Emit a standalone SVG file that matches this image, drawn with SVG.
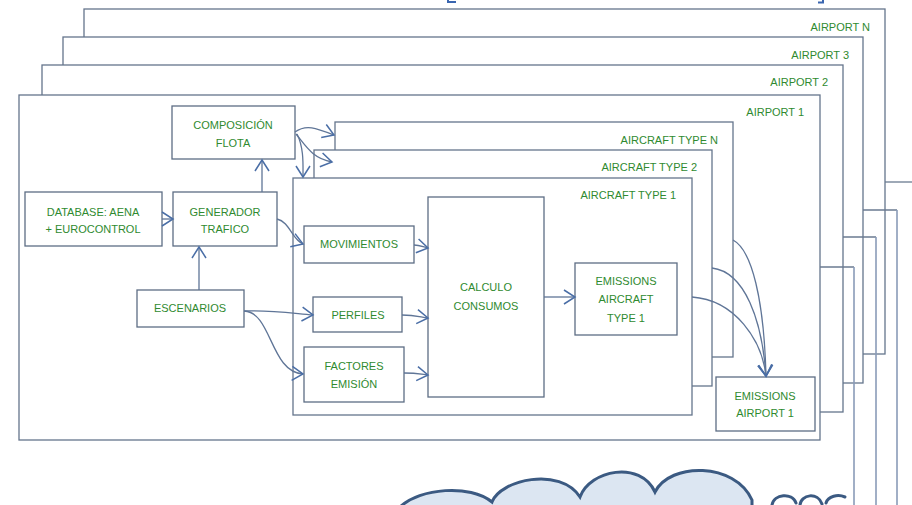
<svg xmlns="http://www.w3.org/2000/svg" width="912" height="505" viewBox="0 0 912 505">
<style>
.frame{fill:#ffffff;stroke:#65758c;stroke-width:1.3}
.box{fill:#ffffff;stroke:#5d6d84;stroke-width:1.3}
.t{font-family:"Liberation Sans",Arial,sans-serif;font-size:11px;fill:#2f8a2f;text-anchor:middle}
.lbl{font-family:"Liberation Sans",Arial,sans-serif;font-size:11px;fill:#2f8a2f;text-anchor:end}
.c{fill:none;stroke:#5f7597;stroke-width:1.3}
.side{fill:none;stroke:#8a9bb8;stroke-width:1.6}
.sideh{fill:none;stroke:#6a7a90;stroke-width:1.3}
</style>
<defs>
<marker id="ah" markerWidth="16" markerHeight="18" refX="13" refY="9" orient="auto" markerUnits="userSpaceOnUse">
<path d="M2,2 L13,9 L2,16" fill="none" stroke="#4a6ea6" stroke-width="1.5"/>
</marker>
</defs>
<rect width="912" height="505" fill="#ffffff"/>
<g id="top-marks" fill="none" stroke="#3a66b0" stroke-width="2">
<path d="M448,0 L448,2 L456,2"/>
<path d="M823,0 L823,2.5 L818,2.5"/>
</g>
<g id="airport-n"><rect class="frame" x="84" y="9" width="801" height="345"/><text class="lbl" x="870" y="31">AIRPORT N</text></g>
<g id="airport-3"><rect class="frame" x="63" y="37" width="800" height="346"/><text class="lbl" x="849" y="59">AIRPORT 3</text></g>
<g id="airport-2"><rect class="frame" x="42" y="65" width="801" height="347"/><text class="lbl" x="828" y="86">AIRPORT 2</text></g>
<g id="airport-1"><rect class="frame" x="19" y="95" width="801" height="345"/><text class="lbl" x="804" y="116">AIRPORT 1</text></g>
<g id="side-lines">
<path class="sideh" d="M885,182 L912,182"/>
<path class="sideh" d="M863,210 L897,210"/><path class="side" d="M897,210 L897,505"/>
<path class="sideh" d="M843,237 L876,237"/><path class="side" d="M876,237 L876,505"/>
<path class="sideh" d="M820,267 L854,267"/><path class="side" d="M854,267 L854,505"/>
</g>
<g id="composicion"><rect class="box" x="172" y="106" width="123" height="53"/><text class="t" x="233" y="129">COMPOSICIÓN</text><text class="t" x="233" y="147">FLOTA</text></g>
<g id="database"><rect class="box" x="25" y="192" width="137" height="54"/><text class="t" x="93" y="216">DATABASE: AENA</text><text class="t" x="93" y="233">+ EUROCONTROL</text></g>
<g id="generador"><rect class="box" x="173" y="192" width="104" height="54"/><text class="t" x="225" y="216">GENERADOR</text><text class="t" x="225" y="233">TRAFICO</text></g>
<g id="escenarios"><rect class="box" x="137" y="290" width="107" height="37"/><text class="t" x="190" y="312">ESCENARIOS</text></g>
<g id="emissions-airport-1"><rect class="box" x="716" y="377" width="99" height="54"/><text class="t" x="765" y="400">EMISSIONS</text><text class="t" x="765" y="417">AIRPORT 1</text></g>
<g id="aircraft-type-n"><rect class="frame" x="335" y="122" width="398" height="235"/><text class="lbl" x="718" y="144">AIRCRAFT TYPE N</text></g>
<g id="aircraft-type-2"><rect class="frame" x="314" y="150" width="398" height="236"/><text class="lbl" x="697" y="171">AIRCRAFT TYPE 2</text></g>
<g id="aircraft-type-1"><rect class="frame" x="293" y="178" width="399" height="237"/><text class="lbl" x="676" y="199">AIRCRAFT TYPE 1</text></g>
<g id="movimientos"><rect class="box" x="304" y="226" width="110" height="37"/><text class="t" x="359" y="248">MOVIMIENTOS</text></g>
<g id="perfiles"><rect class="box" x="313" y="297" width="89" height="35"/><text class="t" x="358" y="319">PERFILES</text></g>
<g id="factores"><rect class="box" x="304" y="347" width="100" height="55"/><text class="t" x="354" y="370">FACTORES</text><text class="t" x="354" y="388">EMISIÓN</text></g>
<g id="calculo"><rect class="box" x="428" y="197" width="116" height="200"/><text class="t" x="486" y="291">CALCULO</text><text class="t" x="486" y="310">CONSUMOS</text></g>
<g id="emissions-aircraft"><rect class="box" x="575" y="263" width="102" height="72"/><text class="t" x="626" y="285">EMISSIONS</text><text class="t" x="626" y="303">AIRCRAFT</text><text class="t" x="626" y="322">TYPE 1</text></g>
<g id="connectors">
<path class="c" marker-end="url(#ah)" d="M162,219 L173,219"/>
<path class="c" marker-end="url(#ah)" d="M199,290 L199,247"/>
<path class="c" marker-end="url(#ah)" d="M262,192 L262,160"/>
<path class="c" marker-end="url(#ah)" d="M295,132 C306,124 316,128 334,135"/>
<path class="c" marker-end="url(#ah)" d="M296,134 C306,146 312,158 332,162"/>
<path class="c" marker-end="url(#ah)" d="M297,134 C304,148 303,164 303,177"/>
<path class="c" marker-end="url(#ah)" d="M277,219 C290,222 292,240 303,244"/>
<path class="c" marker-end="url(#ah)" d="M244,311 C270,310 290,313 313,315"/>
<path class="c" marker-end="url(#ah)" d="M244,311 C272,312 270,372 303,374"/>
<path class="c" marker-end="url(#ah)" d="M414,245 C420,245 423,247 428,248"/>
<path class="c" marker-end="url(#ah)" d="M402,315 C415,315 420,317 428,318"/>
<path class="c" marker-end="url(#ah)" d="M404,373 C415,373 420,374 428,375"/>
<path class="c" marker-end="url(#ah)" d="M544,297 L575,297"/>
<path class="c" marker-end="url(#ah)" d="M733,240 C752,250 764,300 766,376"/>
<path class="c" marker-end="url(#ah)" d="M712,268 C745,272 762,320 766,376"/>
<path class="c" marker-end="url(#ah)" d="M692,297 C735,300 762,340 766,376"/>
</g>
<g id="cloud" fill="#dce6f2" stroke="#3b5a82" stroke-width="3" stroke-linecap="round">
<path d="M400,507 C420,488 470,484 492,502 C500,480 560,466 580,497 C590,470 640,460 655,492 C670,462 735,462 752,500 L752,507 Z"/>
<path d="M772,505 C774,494 792,492 796,503" fill="none"/>
<path d="M800,505 C801,494 818,492 822,504" fill="none"/>
<path d="M826,503 C828,496 838,494 845,497" fill="none"/>
</g>
</svg>
